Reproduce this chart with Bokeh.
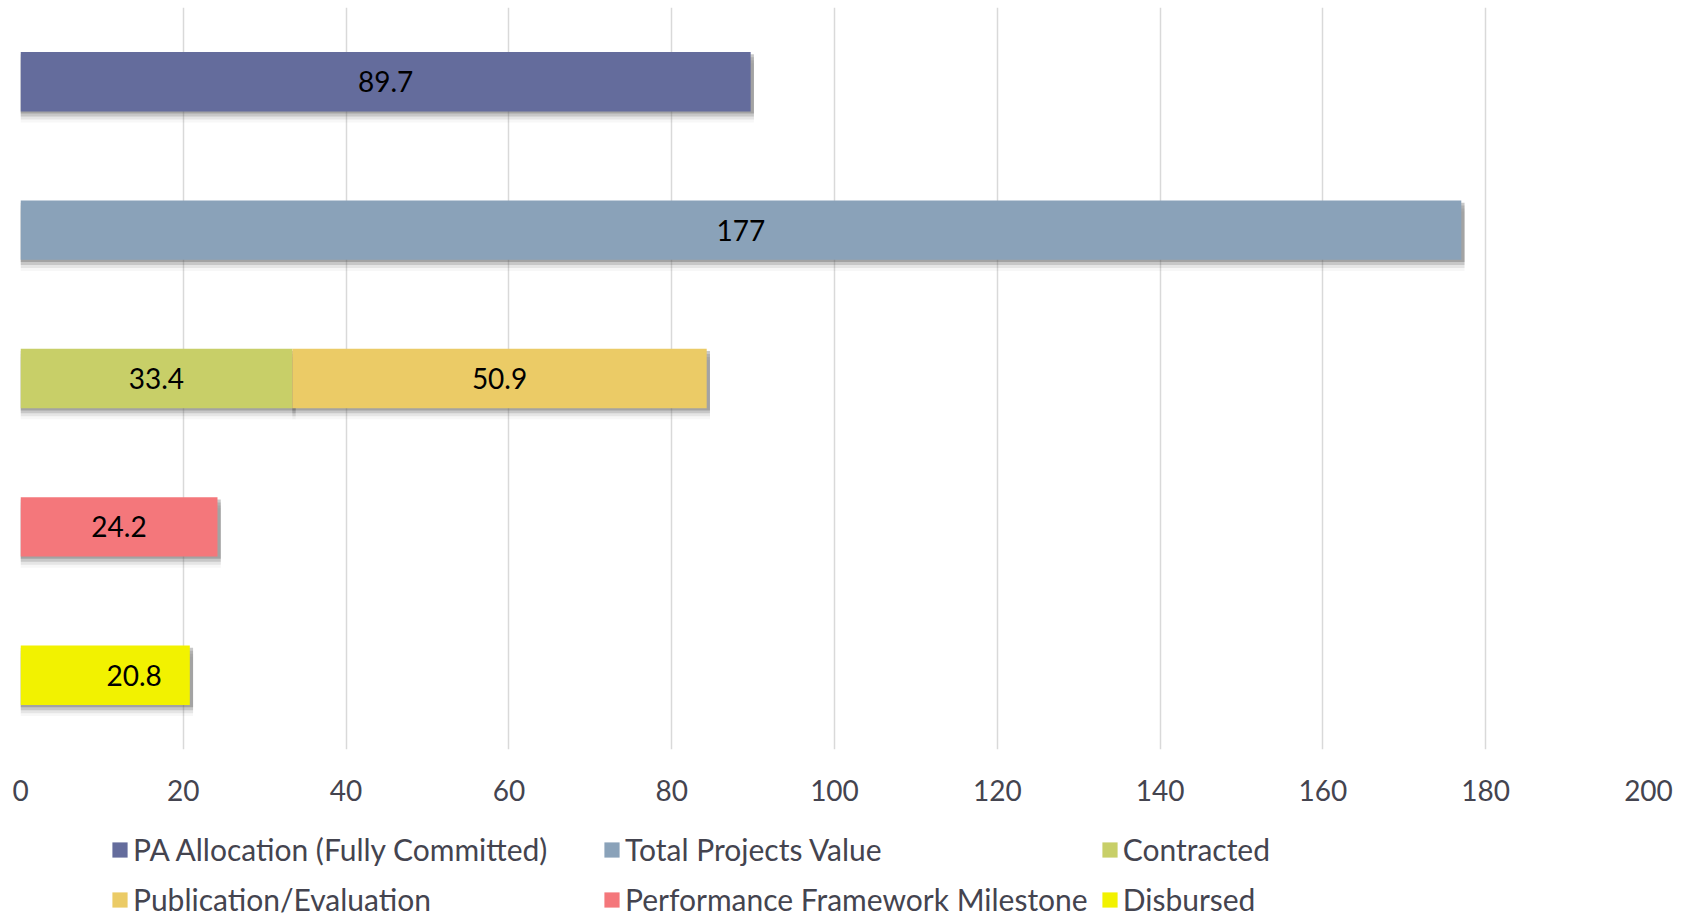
from bokeh.plotting import figure
from bokeh.layouts import column
from bokeh.models import FactorRange, Range1d, Legend, LegendItem, LabelSet, ColumnDataSource
from bokeh.transform import dodge
from bokeh.core.properties import value
from bokeh.embed import file_html
from bokeh.resources import INLINE

# ---- data ----
rows = ["PA Allocation", "Total Projects", "Contracting", "Milestone", "Disbursed"]  # top -> bottom
series_names = ["PA Allocation (Fully Committed)", "Total Projects Value", "Contracted",
                "Publication/Evaluation", "Performance Framework Milestone", "Disbursed"]
series_rows = ["PA Allocation", "Total Projects", "Contracting", "Contracting", "Milestone", "Disbursed"]
series_values = [89.7, 177, 33.4, 50.9, 24.2, 20.8]
series_colors = ["#646c9c", "#8aa2b9", "#c8cf68", "#ebcb66", "#f4777b", "#f2f200"]
label_dx = [0, 0, 0, 0, 0, 29]
x_ticks = [0, 20, 40, 60, 80, 100, 120, 140, 160, 180, 200]

FONT = "Lato"
TEXT_COLOR = "#44444f"

# stacked left edges within each row
lefts = []
acc = {}
for r, v in zip(series_rows, series_values):
    lefts.append(acc.get(r, 0))
    acc[r] = acc.get(r, 0) + v
rights = [l + v for l, v in zip(lefts, series_values)]

# ---- main chart ----
p = figure(width=1688, height=811,
           y_range=FactorRange(factors=rows[::-1]), x_range=Range1d(0, 200),
           output_backend="svg", toolbar_location=None,
           min_border_left=20, min_border_right=40, min_border_top=7, min_border_bottom=62)

p.outline_line_color = None
p.ygrid.grid_line_color = None
p.xgrid.grid_line_color = "#d9d9d9"
p.xgrid.grid_line_width = 1.5
p.yaxis.visible = False

xa = p.xaxis[0]
xa.ticker = x_ticks
xa.axis_line_color = None
xa.major_tick_line_color = None
xa.minor_tick_line_color = None
xa.major_label_text_font = FONT
xa.major_label_text_font_size = "28px"
xa.major_label_text_color = TEXT_COLOR
xa.major_label_standoff = 24

# soft drop shadows
shadow_src = ColumnDataSource(dict(row=series_rows, left=lefts, right=[r + 0.4 for r in rights]))
for off, alpha in [(-0.015, 0.35), (-0.035, 0.22), (-0.055, 0.12), (-0.075, 0.05)]:
    p.hbar(y=dodge("row", off, range=p.y_range), left="left", right="right", height=0.4,
           source=shadow_src, fill_color="#606060", fill_alpha=alpha, line_color=None)

for name, r, l, v, c in zip(series_names, series_rows, lefts, series_values, series_colors):
    src = ColumnDataSource(dict(row=[r], left=[l], right=[l + v]))
    p.hbar(y="row", left="left", right="right", height=0.4, source=src,
           fill_color=c, line_color=None)

lab_src = ColumnDataSource(dict(row=series_rows, x=[l + v / 2 for l, v in zip(lefts, series_values)],
                                text=[f"{v:g}" for v in series_values], dx=label_dx))
p.add_layout(LabelSet(x="x", y="row", text="text", source=lab_src, x_offset="dx",
                      text_align="center", text_baseline="middle",
                      text_font=value(FONT), text_font_size="28px", text_color="black"))

# ---- legend strip (separate figure so the legend is never clipped) ----
pl = figure(width=1688, height=106, x_range=Range1d(0, 200), y_range=Range1d(0, 1),
            output_backend="svg", toolbar_location=None,
            x_axis_location=None, y_axis_location=None,
            min_border_left=20, min_border_right=40, min_border_top=0, min_border_bottom=0)
pl.outline_line_color = None
pl.grid.visible = False

items = []
for name, l, v, c in zip(series_names, lefts, series_values, series_colors):
    g = pl.hbar(y=[0.5], left=[l], right=[l + v], height=0.4, fill_color=c, line_color=None,
                visible=False)
    items.append(LegendItem(label=name, renderers=[g]))

legend = Legend(items=items, location=(90, -1), orientation="horizontal", ncols=3,
                glyph_width=19, glyph_height=19, label_standoff=4,
                label_text_font=FONT, label_text_font_size="30px", label_text_color=TEXT_COLOR,
                label_width=457, label_height=38, spacing=12, padding=0, margin=0,
                inactive_fill_alpha=0,
                background_fill_alpha=0, border_line_color=None)
pl.add_layout(legend)

layout = column(p, pl, spacing=0)
open("out.html", "w").write(file_html(layout, INLINE))
